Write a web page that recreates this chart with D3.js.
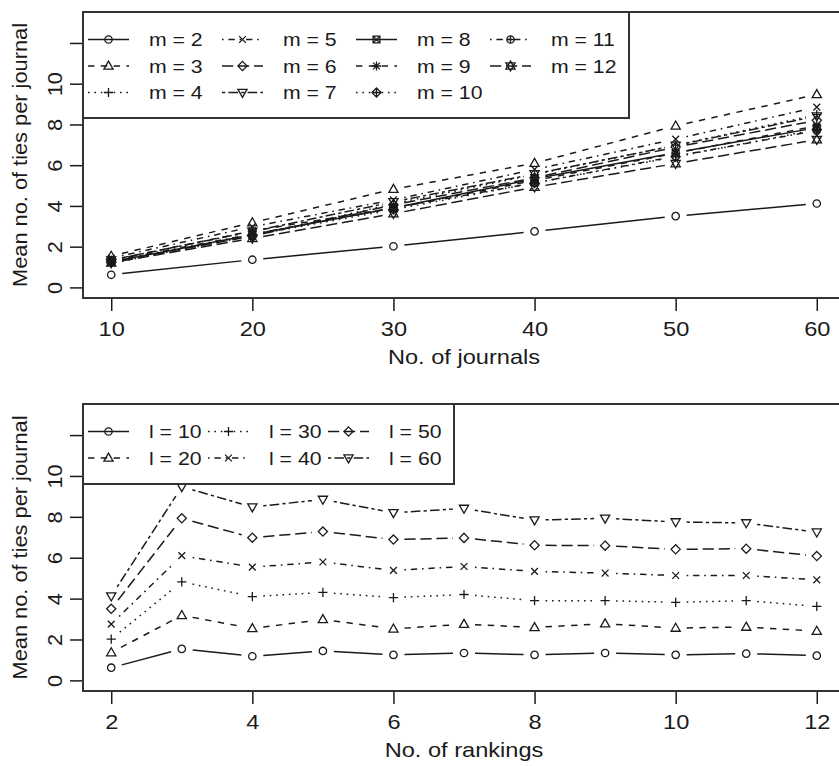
<!DOCTYPE html>
<html>
<head>
<meta charset="utf-8">
<script src="https://cdn.jsdelivr.net/npm/d3@7"></script>
<style>
  body { margin: 0; background: #fff; }
  svg { display: block; }
  text { font-family: "Liberation Sans", Arial, Helvetica, sans-serif; fill: #1a1a1a; }
</style>
</head>
<body>
<div id="chart"></div>
<script>
var width = 839;
var height = 766;

// data: mean no. of ties per journal, one array per no. of journals (l),
// values at each no. of rankings (m = 2..12)
var rankings = [2, 3, 4, 5, 6, 7, 8, 9, 10, 11, 12];
var journals = [10, 20, 30, 40, 50, 60];
var ties10 = [0.62, 1.54, 1.18, 1.44, 1.25, 1.34, 1.25, 1.34, 1.25, 1.31, 1.21];
var ties20 = [1.36, 3.18, 2.54, 2.98, 2.52, 2.75, 2.59, 2.77, 2.56, 2.61, 2.41];
var ties30 = [2.02, 4.82, 4.10, 4.30, 4.05, 4.20, 3.90, 3.90, 3.82, 3.90, 3.62];
var ties40 = [2.75, 6.10, 5.54, 5.79, 5.38, 5.57, 5.33, 5.25, 5.13, 5.13, 4.92];
var ties50 = [3.50, 7.93, 6.98, 7.28, 6.89, 6.97, 6.61, 6.59, 6.41, 6.44, 6.08];
var ties60 = [4.12, 9.47, 8.48, 8.85, 8.20, 8.41, 7.84, 7.93, 7.75, 7.70, 7.25];
var tiesByJournal = [ties10, ties20, ties30, ties40, ties50, ties60];

var yTicks = [0, 2, 4, 6, 8, 10, 12];
var journalTicks = [10, 20, 30, 40, 50, 60];
var rankingTicks = [2, 4, 6, 8, 10, 12];
var topLabels = rankings.map(function(m) { return "m = " + m; });
var bottomLabels = journals.map(function(l) { return "l = " + l; });

// R line types and plotting characters, recycled per series
var ltys = ["", "6.4,6.4", "1.6,4.8", "1.6,4.8,6.4,4.8", "11.2,4.8", "3.2,3.2,9.6,3.2"];
var pchs = ["circle", "triUp", "plus", "cross", "diamond", "triDown", "squareX", "asterisk", "diamondPlus", "circlePlus", "david"];

var ink = "#1a1a1a";
var stretch = 1.18;

var svg = d3.select("#chart").append("svg")
  .attr("width", width)
  .attr("height", height);

function symbolPath(type) {
  var s = 4.6, c = 3.4;
  var tri = function(dir) {
    return "M0," + (-dir * s * 1.05) + "L" + s + "," + (dir * s * 0.7) + "L" + (-s) + "," + (dir * s * 0.7) + "Z";
  };
  var plus = "M" + (-s) + ",0H" + s + "M0," + (-s) + "V" + s;
  var cross = "M" + (-c) + "," + (-c) + "L" + c + "," + c + "M" + (-c) + "," + c + "L" + c + "," + (-c);
  var diamond = "M0," + (-s) + "L" + s + ",0L0," + s + "L" + (-s) + ",0Z";
  var circle = "M3.7,0A3.7,3.7 0 1,1 -3.7,0A3.7,3.7 0 1,1 3.7,0Z";
  switch (type) {
    case "circle": return circle;
    case "triUp": return tri(1);
    case "triDown": return tri(-1);
    case "plus": return plus;
    case "cross": return cross;
    case "diamond": return diamond;
    case "squareX": return "M" + (-c) + "," + (-c) + "H" + c + "V" + c + "H" + (-c) + "Z" + cross;
    case "asterisk": return plus + cross;
    case "diamondPlus": return diamond + plus;
    case "circlePlus": return circle + "M-3.7,0H3.7M0,-3.7V3.7";
    case "david": return tri(1) + tri(-1);
  }
}

function drawPanel(opt) {
  var x = d3.scaleLinear().domain(opt.xDomain).range([83, 845]);
  var y = d3.scaleLinear().domain([-0.52, 13.52]).range([opt.bottom, opt.top]);
  var g = svg.append("g");

  // series, type = "b": segments with gaps around the points
  var gap = 11;
  opt.series.forEach(function(vals, i) {
    var pts = opt.xValues.map(function(xv, j) { return [x(xv), y(vals[j])]; });
    var sg = g.append("g");
    for (var j = 0; j < pts.length - 1; j++) {
      var dx = pts[j + 1][0] - pts[j][0], dy = pts[j + 1][1] - pts[j][1];
      var len = Math.sqrt(dx * dx + dy * dy);
      if (len <= 2 * gap) continue;
      var ux = dx / len, uy = dy / len;
      sg.append("line")
        .attr("x1", pts[j][0] + ux * gap).attr("y1", pts[j][1] + uy * gap)
        .attr("x2", pts[j + 1][0] - ux * gap).attr("y2", pts[j + 1][1] - uy * gap)
        .attr("stroke", ink).attr("stroke-width", 1.5)
        .attr("stroke-dasharray", ltys[i % ltys.length] || null);
    }
    sg.selectAll("path.pt").data(pts).enter().append("path")
      .attr("class", "pt")
      .attr("transform", function(p) { return "translate(" + p[0] + "," + p[1] + ")"; })
      .attr("d", symbolPath(pchs[i]))
      .attr("fill", "none").attr("stroke", ink).attr("stroke-width", 1.3);
  });

  // axes
  var xAxis = g.append("g")
    .attr("transform", "translate(0," + opt.bottom + ")")
    .call(d3.axisBottom(x).tickValues(opt.xTicks).tickSize(13).tickFormat(d3.format("d")));
  xAxis.select(".domain").remove();
  xAxis.selectAll("line").attr("stroke", ink).attr("stroke-width", 1.5);
  xAxis.selectAll("text")
    .attr("y", 38).attr("dy", null)
    .attr("transform", "scale(" + stretch + ",1)")
    .style("font-size", "20px").attr("fill", ink);

  var yAxis = g.append("g")
    .attr("transform", "translate(83,0)")
    .call(d3.axisLeft(y).tickValues(yTicks).tickSize(13)
      .tickFormat(function(d) { return d === 12 ? "" : d; }));
  yAxis.select(".domain").remove();
  yAxis.selectAll("line").attr("stroke", ink).attr("stroke-width", 1.5);
  yAxis.selectAll("text")
    .attr("x", null).attr("dy", null)
    .attr("text-anchor", "middle")
    .attr("transform", "translate(-21,0) rotate(-90) scale(1.09,1)")
    .style("font-size", "20px").attr("fill", ink);

  // box
  g.append("rect")
    .attr("x", 83).attr("y", opt.top)
    .attr("width", 762).attr("height", opt.bottom - opt.top)
    .attr("fill", "none").attr("stroke", "#333").attr("stroke-width", 2);

  // axis titles
  g.append("text")
    .attr("transform", "translate(464," + (opt.bottom + 66) + ") scale(" + stretch + ",1)")
    .attr("text-anchor", "middle")
    .style("font-size", "20px")
    .text(opt.xTitle);
  g.append("text")
    .attr("transform", "translate(27," + ((opt.top + opt.bottom) / 2) + ") rotate(-90) scale(1.09,1)")
    .attr("text-anchor", "middle")
    .style("font-size", "20px")
    .text("Mean no. of ties per journal");

  // legend
  var lg = g.append("g");
  lg.append("rect")
    .attr("x", 83).attr("y", opt.top)
    .attr("width", opt.legendRight - 83).attr("height", opt.legendBottom - opt.top)
    .attr("fill", "#fff").attr("stroke", "#333").attr("stroke-width", 2);
  opt.labels.forEach(function(lab, i) {
    var col = Math.floor(i / opt.rows), row = i % opt.rows;
    var lx = 88 + col * opt.colStep;
    var ly = opt.top + 27.5 + row * 26.5;
    lg.append("line")
      .attr("x1", lx).attr("x2", lx + 41).attr("y1", ly).attr("y2", ly)
      .attr("stroke", ink).attr("stroke-width", 1.5)
      .attr("stroke-dasharray", ltys[i % ltys.length] || null);
    lg.append("path")
      .attr("transform", "translate(" + (lx + 20.5) + "," + ly + ")")
      .attr("d", symbolPath(pchs[i]))
      .attr("fill", "none").attr("stroke", ink).attr("stroke-width", 1.3);
    lg.append("text")
      .attr("transform", "translate(" + (lx + 61) + "," + (ly + 6.5) + ") scale(" + stretch + ",1)")
      .style("font-size", "18px")
      .text(lab);
  });
}

// top: ties against no. of journals, one line per no. of rankings
var topSeries = rankings.map(function(m, i) {
  return tiesByJournal.map(function(arr) { return arr[i]; });
});
drawPanel({
  top: 12, bottom: 298,
  xDomain: [8, 62], xValues: journals, xTicks: journalTicks,
  series: topSeries, labels: topLabels,
  xTitle: "No. of journals",
  rows: 3, colStep: 134, legendRight: 629, legendBottom: 118
});

// bottom: ties against no. of rankings, one line per no. of journals
drawPanel({
  top: 404, bottom: 691,
  xDomain: [1.6, 12.4], xValues: rankings, xTicks: rankingTicks,
  series: tiesByJournal, labels: bottomLabels,
  xTitle: "No. of rankings",
  rows: 2, colStep: 120, legendRight: 454, legendBottom: 484
});
</script>
</body>
</html>
